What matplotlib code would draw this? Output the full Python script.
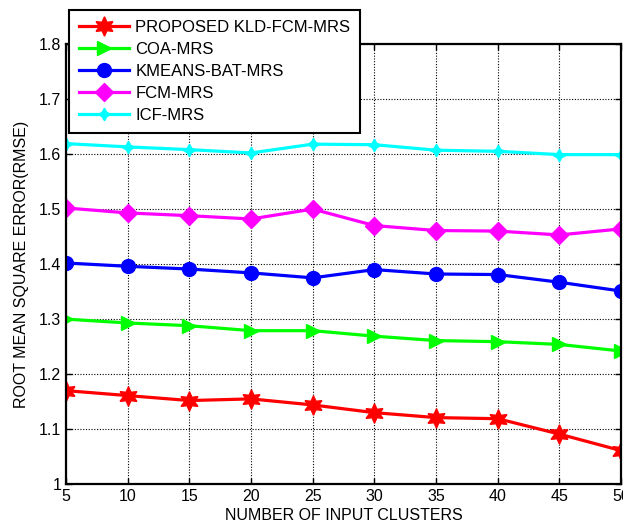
import numpy as np
import matplotlib.pyplot as plt

plt.rcParams['font.family'] = ['Liberation Sans', 'DejaVu Sans']

clusters = [5, 10, 15, 20, 25, 30, 35, 40, 45, 50]
kld_fcm = [1.170, 1.161, 1.152, 1.155, 1.144, 1.130, 1.121, 1.119, 1.091, 1.061]
coa = [1.300, 1.293, 1.288, 1.279, 1.279, 1.269, 1.261, 1.259, 1.254, 1.242]
kmeans_bat = [1.402, 1.396, 1.391, 1.384, 1.375, 1.390, 1.382, 1.381, 1.367, 1.351]
fcm = [1.502, 1.493, 1.488, 1.482, 1.500, 1.470, 1.461, 1.460, 1.453, 1.464]
icf = [1.619, 1.613, 1.608, 1.602, 1.618, 1.617, 1.607, 1.605, 1.599, 1.599]

labels = ['PROPOSED KLD-FCM-MRS', 'COA-MRS', 'KMEANS-BAT-MRS', 'FCM-MRS', 'ICF-MRS']

fig = plt.figure(figsize=(6.23, 5.24), dpi=100)
ax = fig.add_axes([0.106, 0.076, 0.891, 0.840])

ax.plot(clusters, kld_fcm, color='#ff0000', lw=2.3, marker=(6, 1, 0), markersize=14, label=labels[0])
ax.plot(clusters, coa, color='#00ff00', lw=2.3, marker='>', markersize=10, label=labels[1])
ax.plot(clusters, kmeans_bat, color='#0000ff', lw=2.3, marker='o', markersize=10, label=labels[2])
ax.plot(clusters, fcm, color='#ff00ff', lw=2.3, marker='D', markersize=9, label=labels[3])
ax.plot(clusters, icf, color='#00ffff', lw=2.3, marker=(4, 1, 0), markersize=9, label=labels[4])

ax.set_xlim(5, 50)
ax.set_ylim(1, 1.8)
ax.set_xticks(clusters)
ax.set_yticks([1, 1.1, 1.2, 1.3, 1.4, 1.5, 1.6, 1.7, 1.8])
ax.set_yticklabels(['1', '1.1', '1.2', '1.3', '1.4', '1.5', '1.6', '1.7', '1.8'])
ax.tick_params(direction='in', top=True, right=True, labelsize=11.5, length=4, width=1)
ax.grid(True, color='black', linestyle=(0, (1, 1.5)), linewidth=0.8)
for s in ax.spines.values():
    s.set_linewidth(1.6)

ax.set_xlabel('NUMBER OF INPUT CLUSTERS', fontsize=11.5, labelpad=3)
ax.set_ylabel('ROOT MEAN SQUARE ERROR(RMSE)', fontsize=11.5, labelpad=7)

leg = ax.legend(loc='upper left', bbox_to_anchor=(0.005, 1.077), fontsize=12,
                handlelength=3.0, handletextpad=0.4, labelspacing=0.42, borderpad=0.6,
                borderaxespad=0, fancybox=False, framealpha=1, edgecolor='black')
leg.get_frame().set_linewidth(1.5)

fig.savefig('out.png', dpi=100)
